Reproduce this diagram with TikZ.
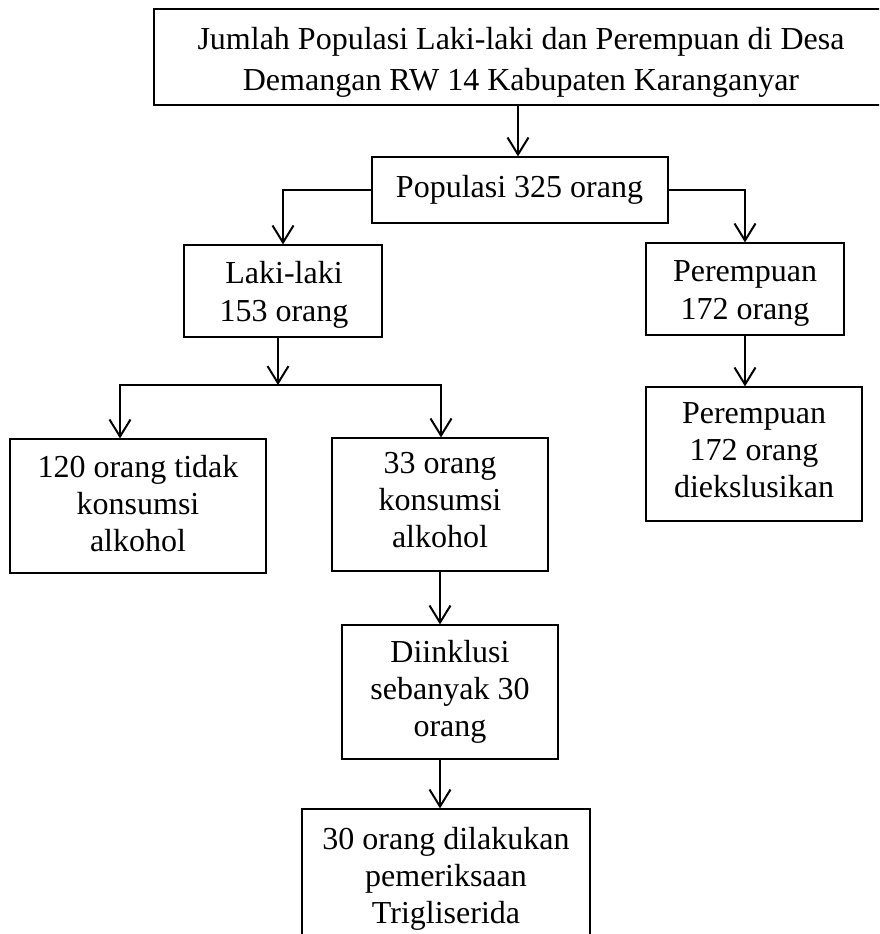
\documentclass[tikz,border=0pt]{standalone}
\usepackage{fontspec}
\setmainfont{Liberation Serif}
\usetikzlibrary{arrows.meta}
\begin{document}
\begin{tikzpicture}[x=1pt,y=-1pt,
  box/.style={draw=black, line width=1.2pt, inner sep=0pt, rectangle},
  txt/.style={font=\fontsize{32}{37}\selectfont, align=center, inner sep=0pt},
  arr/.style={line width=2pt, -{Straight Barb[length=17pt,width=21pt,line width=2pt]}},
  ln/.style={line width=2pt, line cap=rect}]
\path[use as bounding box] (0,0) rectangle (879,934);
\clip (0,0) rectangle (879,934);
% boxes
\node[box, minimum width=740pt, minimum height=96pt] (top) at (524,57) {};
\node[txt, font=\fontsize{32}{41}\selectfont] (toptxt) at (521,62) {Jumlah Populasi Laki-laki dan Perempuan di Desa\\Demangan RW 14 Kabupaten Karanganyar};
\node[box, minimum width=296pt, minimum height=66pt] (pop) at (520,190) {};
\node[txt] (poptxt) at (519.5,189.5) {Populasi 325 orang};
\node[box, minimum width=198pt, minimum height=92pt] (laki) at (283,291) {};
\node[txt, font=\fontsize{32}{38}\selectfont] (lakitxt) at (284,295) {Laki-laki\\153 orang};
\node[box, minimum width=198pt, minimum height=92pt] (prp) at (745,289) {};
\node[txt, font=\fontsize{32}{38}\selectfont] (prptxt) at (745,293) {Perempuan\\172 orang};
\node[box, minimum width=216pt, minimum height=134pt] (prp2) at (754,454) {};
\node[txt] (prp2txt) at (754,450.5) {Perempuan\\172 orang\\diekslusikan};
\node[box, minimum width=256pt, minimum height=134pt] (tidak) at (138,506) {};
\node[txt] (tidaktxt) at (138,503.5) {120 orang tidak\\konsumsi\\alkohol};
\node[box, minimum width=216pt, minimum height=133pt] (kons) at (440,504.5) {};
\node[txt] (konstxt) at (440,500.5) {33 orang\\konsumsi\\alkohol};
\node[box, minimum width=216pt, minimum height=134pt] (inkl) at (450,692) {};
\node[txt] (inkltxt) at (450,691.5) {Diinklusi\\sebanyak 30\\orang};
\node[box, minimum width=288pt, minimum height=134pt] (tg) at (446,876) {};
\node[txt] (tgtxt) at (446,878.5) {30 orang dilakukan\\pemeriksaan\\Trigliserida};
% connectors
\coordinate (br) at (278,385);
\coordinate (bl) at (120,385);
\coordinate (brr) at (441,385);
\draw[arr] ([xshift=-2pt]pop.north |- top.south) -- ([xshift=-2pt]pop.north);
\draw[arr] (pop.west) -| (laki.north);
\draw[arr] (pop.east) -| (prp.north);
\draw[arr] (prp.south) -- (prp.south |- prp2.north);
\draw[arr] (br |- laki.south) -- (br);
\draw[ln] (bl) -- (brr);
\draw[arr] (bl) -- (bl |- tidak.north);
\draw[arr] (brr) -- (brr |- kons.north);
\draw[arr] (kons.south) -- (kons.south |- inkl.north);
\draw[arr] (kons.south |- inkl.south) -- (kons.south |- tg.north);
\end{tikzpicture}
\end{document}
